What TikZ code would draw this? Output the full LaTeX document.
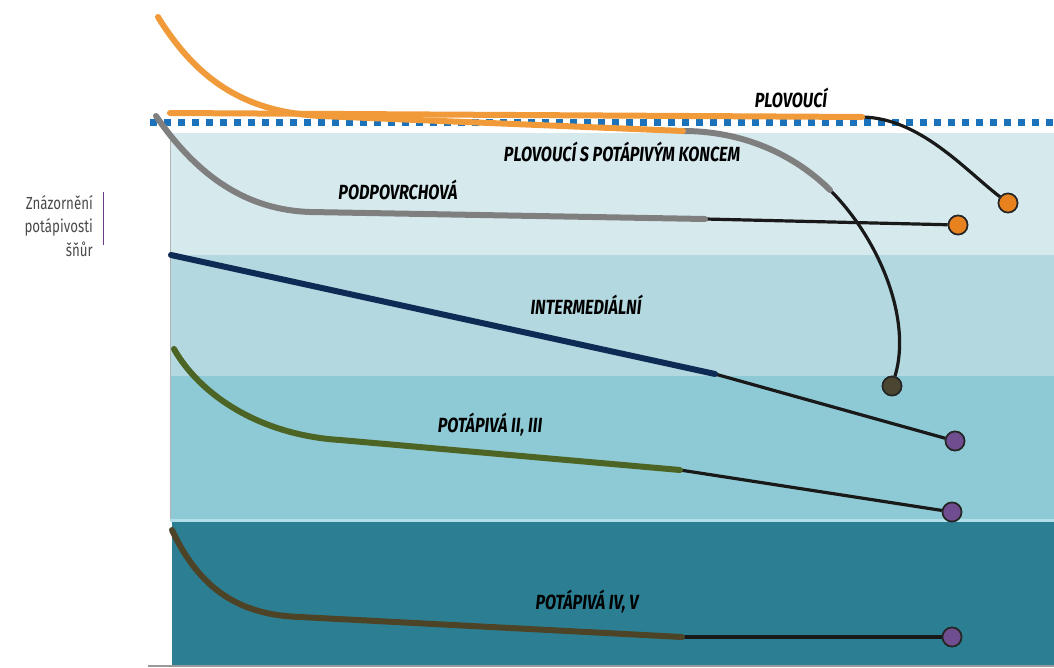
\documentclass[tikz,border=0pt]{standalone}
\usepackage{fontspec}
\newfontfamily\labfont[FakeStretch=0.79]{Fira Sans}
\newfontfamily\sidefont[FakeStretch=0.76]{Fira Sans}
\definecolor{bandA}{HTML}{D6EAEE}
\definecolor{bandB}{HTML}{B3D8E0}
\definecolor{bandC}{HTML}{8ECAD5}
\definecolor{bandD}{HTML}{2C7F93}
\definecolor{sep}{HTML}{B2DEE7}
\definecolor{dotblue}{HTML}{1B72BA}
\definecolor{lorange}{HTML}{F09A3A}
\definecolor{lgray}{HTML}{7F7F7F}
\definecolor{lnavy}{HTML}{0D2B55}
\definecolor{lgreen}{HTML}{4C6424}
\definecolor{lbrown}{HTML}{4D4428}
\definecolor{corange}{HTML}{E8821E}
\definecolor{cpurple}{HTML}{6F4D8E}
\definecolor{colive}{HTML}{4A4632}
\definecolor{sidetext}{HTML}{4A4A4A}
\definecolor{sideline}{HTML}{6A3D8A}
\begin{document}
\begin{tikzpicture}[x=1pt,y=-1pt,
  lab/.style={font=\labfont\bfseries\itshape\fontsize{20.5}{22}\selectfont, text=black, inner sep=0pt},
  flyline/.style={line width=6pt, line cap=round},
  leader/.style={line width=3.2pt, draw=black!90},
  sinker/.style={circle, draw=black!85, line width=1.6pt, minimum size=19pt, inner sep=0pt}]
\useasboundingbox (0,0) rectangle (1054,668);
% water bands
\fill[bandA] (170,133) rectangle (1054,255);
\fill[bandB] (170,255) rectangle (1054,376);
\fill[bandC] (170,376) rectangle (1054,519);
\fill[sep] (170,519) rectangle (1054,522);
\fill[bandD] (172,522) rectangle (1054,665);
\draw[black!30, line width=0.6pt] (170,133) -- (170,519);
\draw[black!40, line width=2pt] (148,665.5) -- (1054,665.5);
% surface dotted line
\draw[dotblue, line width=7pt, dash pattern=on 7pt off 7pt] (150,123) -- (1054,123);

% sinker / end nodes
\node[sinker, fill=corange] (c1) at (1008,203) {};
\node[sinker, fill=corange] (c2) at (958,225) {};
\node[sinker, fill=colive] (c3) at (892,386) {};
\node[sinker, fill=cpurple] (c4) at (955,441) {};
\node[sinker, fill=cpurple] (c5) at (952,512) {};
\node[sinker, fill=cpurple] (c6) at (952,637) {};

% knee coordinates
\coordinate (f1a) at (170,113);
\coordinate (f1b) at (862,117);
\coordinate (f2a) at (158,17);
\coordinate (f2k) at (320,116);
\coordinate (f2b) at (683,131);
\coordinate (f2c) at (830,190);
\coordinate (g1a) at (156,116);
\coordinate (g1k) at (310,212);
\coordinate (g1b) at (705,219);
\coordinate (n1a) at (171,255);
\coordinate (n1b) at (715,374);
\coordinate (p1a) at (174,349);
\coordinate (p1k) at (340,440);
\coordinate (p1b) at (680,470);
\coordinate (b1a) at (172,530);
\coordinate (b1k) at (300,617);
\coordinate (b1b) at (682,637);

% leaders (black parts)
\draw[leader] (f1b) .. controls (920,118) and (965,170) .. (c1);
\draw[leader] (f2c) .. controls (880,240) and (912,320) .. (c3);
\draw[leader] (g1b) -- (c2);
\draw[leader] (n1b) -- (c4);
\draw[leader] (p1b) -- (c5);
\draw[leader] (b1b) -- (c6);
% redraw circles on top
\node[sinker, fill=corange] at (c1) {};
\node[sinker, fill=corange] at (c2) {};
\node[sinker, fill=colive] at (c3) {};
\node[sinker, fill=cpurple] at (c4) {};
\node[sinker, fill=cpurple] at (c5) {};
\node[sinker, fill=cpurple] at (c6) {};

% fly lines
\draw[flyline, lgray] (g1a) .. controls (200,180) and (250,210) .. (g1k) -- (g1b);
\draw[flyline, lgray] (f2b) .. controls (750,131) and (800,160) .. (f2c);
\draw[flyline, lorange] (f1a) -- (f1b);
\draw[flyline, lorange] (f2a) .. controls (200,85) and (250,112) .. (f2k) -- (f2b);
\draw[flyline, lnavy] (n1a) -- (n1b);
\draw[flyline, lgreen] (p1a) .. controls (200,395) and (260,435) .. (p1k) -- (p1b);
\draw[flyline, lbrown] (b1a) .. controls (200,590) and (240,615) .. (b1k) -- (b1b);

% labels
\node[lab] (t1) at (791,98) {PLOVOUCÍ};
\node[lab] (t2) at (622,152) {PLOVOUCÍ S POTÁPIVÝM KONCEM};
\node[lab] (t3) at (398,190) {PODPOVRCHOVÁ};
\node[lab] (t4) at (586,305) {INTERMEDIÁLNÍ};
\node[lab] (t5) at (490,425) {POTÁPIVÁ II, III};
\node[lab] (t6) at (587,602) {POTÁPIVÁ IV, V};

% side caption
\node[anchor=east, align=right, text=sidetext, inner sep=0pt,
  font=\sidefont\fontsize{17.5}{23.5}\selectfont] (side) at (93,226) {Znázornění\\potápivosti\\šňůr};
\draw[sideline, line width=1pt] (103,192) -- (103,245);
\end{tikzpicture}
\end{document}
